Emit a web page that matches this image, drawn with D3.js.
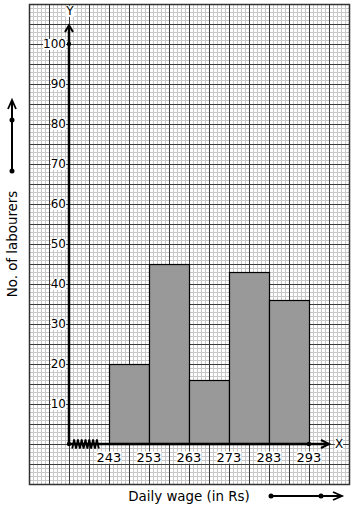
<!DOCTYPE html>
<html>
<head>
<meta charset="utf-8">
<script src="https://cdn.jsdelivr.net/npm/d3@7"></script>
<style>
  body { margin: 0; background: #fff; }
  text { font-family: "DejaVu Sans", sans-serif; fill: #000; }
</style>
</head>
<body>
<div class="chart"></div>
<script>
// class intervals (lower bounds) and number of labourers
const wages = [243, 253, 263, 273, 283];
const counts = [20, 45, 16, 43, 36];
const xTicks = [243, 253, 263, 273, 283, 293];
const yTicks = [10, 20, 30, 40, 50, 60, 70, 80, 90, 100];
const classWidth = 10;

const width = 354, height = 510;

const svg = d3.select(".chart").append("svg")
  .attr("width", width)
  .attr("height", height);

// 4px per unit on both axes
const xScale = d3.scaleLinear().domain([223, 303]).range([29, 349]);
const yScale = d3.scaleLinear().domain([-10, 110]).range([484, 4]);

const origin = {x: 233, y: 0};

// graph paper
const grid = svg.append("g");
const minor = grid.append("g").attr("stroke", "#c8c8c8");
const major = grid.append("g").attr("stroke", "#3c3c3c");
d3.range(223, 304).forEach(v => {
  ((v - 223) % 5 == 0 ? major : minor).append("line")
    .attr("x1", xScale(v) + 0.5).attr("x2", xScale(v) + 0.5)
    .attr("y1", yScale(110)).attr("y2", yScale(-10));
});
d3.range(-10, 111).forEach(v => {
  ((v + 10) % 5 == 0 ? major : minor).append("line")
    .attr("y1", yScale(v) + 0.5).attr("y2", yScale(v) + 0.5)
    .attr("x1", xScale(223)).attr("x2", xScale(303));
});
grid.append("rect")
  .attr("x", xScale(223) + 0.5).attr("y", yScale(110) + 0.5)
  .attr("width", xScale(303) - xScale(223)).attr("height", yScale(-10) - yScale(110))
  .attr("fill", "none").attr("stroke", "#333").attr("stroke-width", 1.5);

// histogram bars
svg.selectAll(".bar")
  .data(wages)
  .enter()
  .append("rect")
  .attr("class", "bar")
  .attr("x", d => xScale(d) + 0.5)
  .attr("y", (d, i) => yScale(counts[i]) + 0.5)
  .attr("width", xScale(classWidth) - xScale(0))
  .attr("height", (d, i) => yScale(0) - yScale(counts[i]))
  .attr("fill", "#999")
  .attr("stroke", "#000")
  .attr("stroke-width", 1.2);

// label with white background
function label(x, y, txt, size, anchor) {
  const g = svg.append("g");
  const t = g.append("text")
    .attr("x", x).attr("y", y)
    .attr("text-anchor", anchor)
    .attr("dominant-baseline", "central")
    .attr("font-size", size)
    .text(txt);
  const b = t.node().getBBox();
  g.insert("rect", "text")
    .attr("x", b.x).attr("y", b.y + 2)
    .attr("width", b.width).attr("height", b.height - 3)
    .attr("fill", "#fff");
  return g;
}

// axes
const ox = xScale(origin.x), oy = yScale(origin.y);
svg.append("line")
  .attr("x1", ox).attr("x2", ox)
  .attr("y1", oy).attr("y2", yScale(104.5))
  .attr("stroke", "#000").attr("stroke-width", 2.5);
svg.append("path")
  .attr("d", `M${ox - 4},${yScale(103)} L${ox},${yScale(104.7)} L${ox + 4},${yScale(103)}`)
  .attr("fill", "none").attr("stroke", "#000").attr("stroke-width", 2);

svg.append("line")
  .attr("x1", ox).attr("x2", xScale(298))
  .attr("y1", oy).attr("y2", oy)
  .attr("stroke", "#000").attr("stroke-width", 2.5);
svg.append("path")
  .attr("d", `M${xScale(296)},${oy - 4} L${xScale(298)},${oy} L${xScale(296)},${oy + 4}`)
  .attr("fill", "none").attr("stroke", "#000").attr("stroke-width", 2);

// axis break (zigzag)
const zig = [];
d3.range(0, 15).forEach(i => {
  zig.push([xScale(233.8) + i * 1.9, oy + (i % 2 == 0 ? 4.5 : -4.5)]);
});
svg.append("path")
  .attr("d", d3.line()(zig))
  .attr("fill", "none").attr("stroke", "#000").attr("stroke-width", 1.8);

// dots
[[ox, oy], [ox, yScale(100)], [xScale(293), oy]].forEach(p => {
  svg.append("circle").attr("cx", p[0]).attr("cy", p[1]).attr("r", 2.2).attr("fill", "#000");
});

// tick labels
yTicks.forEach(v => label(ox - 3, yScale(v), v, 12, "end"));
xTicks.forEach(v => label(xScale(v), oy + 13, v, 13, "middle"));
label(ox + 1, yScale(108.3), "Y", 12, "middle");
label(xScale(300.5), oy, "X", 12, "middle");

// axis titles
svg.append("text")
  .attr("x", 189).attr("y", 496)
  .attr("text-anchor", "middle")
  .attr("dominant-baseline", "central")
  .attr("font-size", 13.4)
  .text("Daily wage (in Rs)");

svg.append("text")
  .attr("transform", "translate(12,244) rotate(-90)")
  .attr("text-anchor", "middle")
  .attr("dominant-baseline", "central")
  .attr("font-size", 13.4)
  .text("No. of labourers");

// direction arrows next to titles
svg.append("line").attr("x1", 271).attr("x2", 341).attr("y1", 496).attr("y2", 496)
  .attr("stroke", "#000").attr("stroke-width", 2);
svg.append("path").attr("d", "M333,492 L342,496 L333,500")
  .attr("fill", "none").attr("stroke", "#000").attr("stroke-width", 1.8);
[271, 321].forEach(x => svg.append("circle").attr("cx", x).attr("cy", 496).attr("r", 2.5).attr("fill", "#000"));

svg.append("line").attr("x1", 12).attr("x2", 12).attr("y1", 171).attr("y2", 101)
  .attr("stroke", "#000").attr("stroke-width", 2);
svg.append("path").attr("d", "M8,109 L12,100 L16,109")
  .attr("fill", "none").attr("stroke", "#000").attr("stroke-width", 1.8);
[171, 120].forEach(y => svg.append("circle").attr("cx", 12).attr("cy", y).attr("r", 2.5).attr("fill", "#000"));
</script>
</body>
</html>
